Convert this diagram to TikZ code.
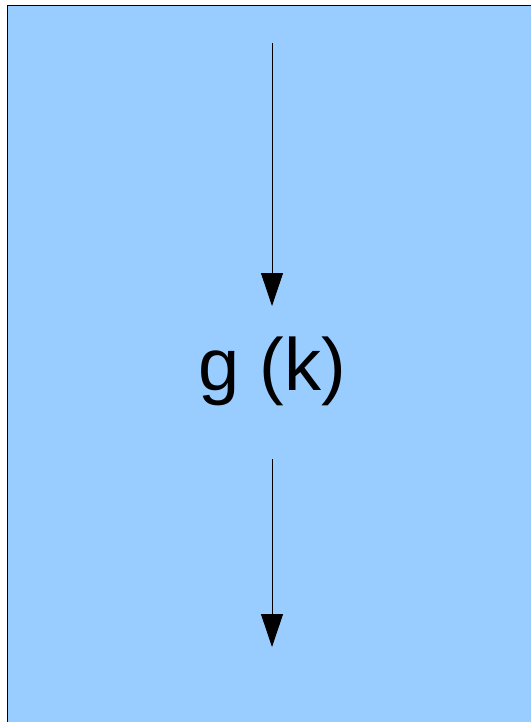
\documentclass[tikz,border=0pt]{standalone}
\usepackage{fontspec}
\setmainfont{Liberation Sans}
\usetikzlibrary{arrows.meta}
\definecolor{bgblue}{HTML}{99CCFF}
\tikzset{
  flow/.style={line width=0.9pt,-{Triangle[length=33pt,width=22pt]}},
  lbl/.style={font=\fontsize{74pt}{82pt}\selectfont, inner sep=0pt}
}
\begin{document}
\begin{tikzpicture}[x=1pt,y=-1pt]
\useasboundingbox (0,0) rectangle (531,722);
\fill[bgblue] (7.5,5.5) rectangle (531,722);
\draw[line width=1.3pt] (7.5,722) -- (7.5,5.5) -- (531,5.5);
\coordinate (a1) at (272,43);
\coordinate (a2) at (272,306);
\coordinate (b1) at (272,459);
\coordinate (b2) at (272,647);
\node[lbl, anchor=base] (g) at (272,390) {g (k)};
\draw[flow] (a1) -- (a2);
\draw[flow] (b1) -- (b2);
\end{tikzpicture}
\end{document}
